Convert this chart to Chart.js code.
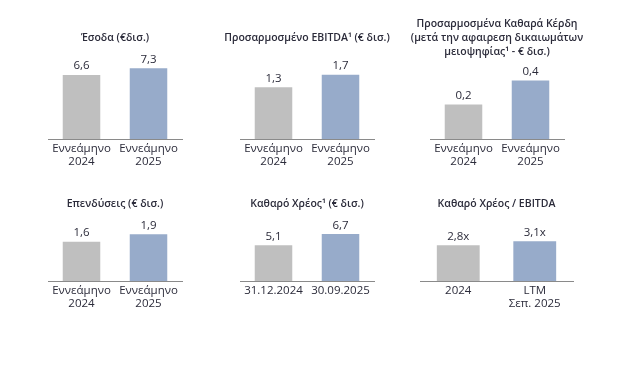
<!DOCTYPE html>
<html lang="el">
<head>
  <meta charset="UTF-8">
  <title>Βασικά μεγέθη εννεαμήνου</title>
  <script src="https://cdn.jsdelivr.net/npm/chart.js"></script>
  <style>
    body { margin: 0; background: #fff; }
    .wrap { position: relative; width: 623px; height: 370px; }
    .panel { position: absolute; }
  </style>
</head>
<body>
  <div class="wrap">
    <div class="panel" style="left:8px;top:0;width:214px;height:175px"><canvas id="c1"></canvas></div>
    <div class="panel" style="left:200px;top:0;width:214px;height:175px"><canvas id="c2"></canvas></div>
    <div class="panel" style="left:390px;top:0;width:214px;height:175px"><canvas id="c3"></canvas></div>
    <div class="panel" style="left:8px;top:180px;width:214px;height:140px"><canvas id="c4"></canvas></div>
    <div class="panel" style="left:200px;top:180px;width:214px;height:140px"><canvas id="c5"></canvas></div>
    <div class="panel" style="left:380px;top:180px;width:233px;height:140px"><canvas id="c6"></canvas></div>
  </div>

  <script>
    // δεδομένα
    const nineMonthLabels = [['Εννεάμηνο', '2024'], ['Εννεάμηνο', '2025']];
    const netDebtLabels = ['31.12.2024', '30.09.2025'];
    const leverageLabels = ['2024', ['LTM', 'Σεπ. 2025']];

    const revenue = [6.6, 7.3];
    const adjEbitda = [1.34, 1.66];
    const adjNetProfit = [0.23, 0.39];
    const capex = [1.6, 1.9];
    const netDebt = [5.1, 6.7];
    const netDebtEbitda = [2.8, 3.1];

    const textColor = '#2b2b3a';
    const barColors = ['#bfbfbf', '#97abca'];
    const fontFamily = '"Open Sans", "Noto Sans", sans-serif';

    // ετικέτες τιμών πάνω από τις μπάρες
    const valueLabels = {
      id: 'valueLabels',
      afterDatasetsDraw(chart, args, opts) {
        const ctx = chart.ctx;
        const values = chart.data.datasets[0].data;
        ctx.save();
        ctx.font = '11.5px ' + fontFamily;
        ctx.fillStyle = textColor;
        ctx.textAlign = 'center';
        ctx.textBaseline = 'bottom';
        chart.getDatasetMeta(0).data.forEach((bar, i) => {
          const txt = values[i].toFixed(1).replace('.', ',') + (opts.suffix || '');
          ctx.fillText(txt, bar.x, bar.y - 3);
        });
        ctx.restore();
      }
    };

    // κενός άξονας για περιθώριο δεξιά/αριστερά (ο τίτλος μένει σε όλο το πλάτος)
    const spacer = pos => ({
      type: 'linear', position: pos, display: true,
      grid: { display: false }, border: { display: false }, ticks: { display: false },
      afterFit: s => { s.width = 40; }
    });

    function makeChart(id, labels, values, title, yMax, titlePad, bottomPad, suffix) {
      new Chart(document.getElementById(id), {
        type: 'bar',
        data: {
          labels: labels,
          datasets: [{ data: values, backgroundColor: barColors, barPercentage: 0.56, categoryPercentage: 1 }]
        },
        options: {
          responsive: true,
          maintainAspectRatio: false,
          animation: false,
          layout: { padding: { left: 0, right: 0, top: 0, bottom: bottomPad } },
          plugins: {
            legend: { display: false },
            tooltip: { enabled: false },
            title: {
              display: true,
              text: title,
              color: textColor,
              font: { family: fontFamily, size: 10.5, weight: '600', lineHeight: 1.33 },
              padding: titlePad
            },
            valueLabels: { suffix: suffix }
          },
          scales: {
            x: {
              grid: { display: false, drawTicks: false },
              border: { display: true, color: '#8a8a8a', width: 1 },
              ticks: { color: textColor, font: { family: fontFamily, size: 11.5, lineHeight: 1.13 }, padding: 3, maxRotation: 0, autoSkip: false },
              afterFit: s => { s.height = 30; }
            },
            y: Object.assign(spacer('left'), { min: 0, max: yMax }),
            yR: spacer('right')
          }
        },
        plugins: [valueLabels]
      });
    }

    makeChart('c1', nineMonthLabels, revenue, 'Έσοδα (€δισ.)', 7.94, { top: 31, bottom: 17 }, 6, '');
    makeChart('c2', nineMonthLabels, adjEbitda, 'Προσαρμοσμένο EBITDA¹ (€ δισ.)', 1.99, { top: 31, bottom: 17 }, 6, '');
    makeChart('c3', nineMonthLabels, adjNetProfit,
      ['Προσαρμοσμένα Καθαρά Κέρδη', '(μετά την αφαιρεση δικαιωμάτων', 'μειοψηφίας¹ - € δισ.)'],
      0.513, { top: 17, bottom: 3 }, 6, '');
    makeChart('c4', nineMonthLabels, capex, 'Επενδύσεις (€ δισ.)', 2.65, { top: 17, bottom: 5 }, 9, '');
    makeChart('c5', netDebtLabels, netDebt, 'Καθαρό Χρέος¹ (€ δισ.)', 9.29, { top: 17, bottom: 5 }, 9, '');
    makeChart('c6', leverageLabels, netDebtEbitda, 'Καθαρό Χρέος / EBITDA', 5.08, { top: 17, bottom: 5 }, 9, 'x');
  </script>
</body>
</html>
